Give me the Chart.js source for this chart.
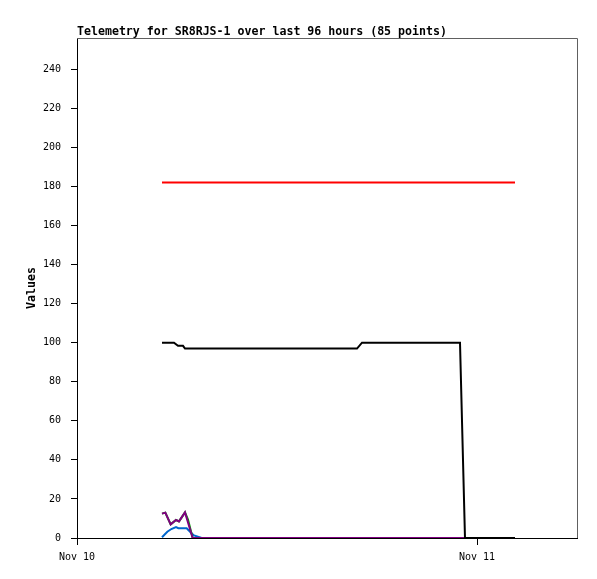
<!DOCTYPE html>
<html>
<head>
<meta charset="utf-8">
<script src="https://cdn.jsdelivr.net/npm/chart.js@4.4.1/dist/chart.umd.min.js"></script>
<style>
  html, body { margin: 0; padding: 0; background: #fff; }
  #wrap { width: 597px; height: 579px; }
</style>
</head>
<body>
<div id="wrap"><canvas id="chart" width="597" height="579"></canvas></div>
<script>
// Telemetry chart, x values are hours since Nov 10 00:00
const titleText = 'Telemetry for SR8RJS-1 over last 96 hours (85 points)';
const yTitle = 'Values';
const yTicks = [0, 20, 40, 60, 80, 100, 120, 140, 160, 180, 200, 220, 240];
const xTickHours = [0, 24];
const xTickLabels = ['Nov 10', 'Nov 11'];

const redHours = [5.10, 26.28];
const redValues = [182, 182];

const blackHours = [5.10, 5.82, 6.06, 6.36, 6.48, 16.80, 17.10, 22.98, 23.28, 26.28];
const blackValues = [100, 100, 98.4, 98.4, 97, 97, 100, 100, 0, 0];

const purpleHours = [5.10, 5.30, 5.62, 5.94, 6.12, 6.48, 6.94, 26.28];
const purpleValues = [12.5, 13, 7, 9.2, 8.5, 13.1, 0, 0];

const greenHours = [5.10, 5.30, 5.62, 5.94, 6.12, 6.48, 6.66, 6.94, 26.28];
const greenValues = [12.5, 13, 7, 9.2, 8.5, 13.1, 9.5, 0, 0];

const blueHours = [5.10, 5.42, 5.66, 5.94, 6.08, 6.58, 6.98, 7.48, 26.28];
const blueValues = [0.4, 3.2, 4.6, 5.6, 5, 5, 1.5, 0, 0];

const FONT = '"DejaVu Sans Mono", "Liberation Mono", monospace';

function pts(hours, values) {
  return hours.map((h, i) => ({ x: h, y: values[i] }));
}

function series(label, hours, values, color) {
  return {
    label: label,
    data: pts(hours, values),
    borderColor: color,
    backgroundColor: color,
    borderWidth: 2,
    pointRadius: 0,
    tension: 0,
    fill: false
  };
}

// title and the gray top/right frame
const framePlugin = {
  id: 'frame',
  afterDraw(chart) {
    const ctx = chart.ctx;
    const a = chart.chartArea;
    ctx.save();
    ctx.strokeStyle = '#606060';
    ctx.lineWidth = 1;
    ctx.beginPath();
    ctx.moveTo(a.left, a.top + 0.5);
    ctx.lineTo(a.right + 0.5, a.top + 0.5);
    ctx.lineTo(a.right + 0.5, a.bottom);
    ctx.stroke();
    ctx.fillStyle = '#000';
    ctx.font = 'bold 11.6px ' + FONT;
    ctx.textAlign = 'left';
    ctx.textBaseline = 'alphabetic';
    ctx.fillText(titleText, a.left, 35);
    ctx.restore();
  }
};

new Chart(document.getElementById('chart'), {
  type: 'line',
  data: {
    datasets: [
      series('black', blackHours, blackValues, '#000000'),
      series('purple', purpleHours, purpleValues, '#800080'),
      series('green', greenHours, greenValues, '#00a000'),
      series('blue', blueHours, blueValues, '#0066cc'),
      series('red', redHours, redValues, '#ff0000')
    ]
  },
  options: {
    responsive: false,
    animation: false,
    devicePixelRatio: 1,
    layout: { padding: { top: 38, right: 20, left: 0, bottom: 0 } },
    plugins: {
      legend: { display: false },
      tooltip: { enabled: false },
      title: { display: false }
    },
    scales: {
      x: {
        type: 'linear',
        min: 0,
        max: 30,
        afterBuildTicks: (s) => { s.ticks = xTickHours.map(v => ({ value: v })); },
        afterFit: (s) => { s.height = 41; },
        ticks: {
          callback: (v, i) => xTickLabels[i],
          font: { family: FONT, size: 10 },
          color: '#000',
          padding: 6,
          maxRotation: 0,
          autoSkip: false
        },
        grid: { drawOnChartArea: false, drawTicks: true, tickLength: 7, color: '#000', lineWidth: 1 },
        border: { display: true, color: '#000', width: 1 }
      },
      y: {
        type: 'linear',
        min: 0,
        max: 256,
        afterBuildTicks: (s) => { s.ticks = yTicks.map(v => ({ value: v })); },
        afterFit: (s) => { s.width = 77; },
        ticks: {
          font: { family: FONT, size: 10 },
          color: '#000',
          padding: 10
        },
        title: {
          display: true,
          text: yTitle,
          color: '#000',
          font: { family: FONT, size: 11.6, weight: 'bold' },
          padding: { top: 25, bottom: 0 }
        },
        grid: { drawOnChartArea: false, drawTicks: true, tickLength: 6, color: '#000', lineWidth: 1 },
        border: { display: true, color: '#000', width: 1 }
      }
    }
  },
  plugins: [framePlugin]
});
</script>
</body>
</html>
